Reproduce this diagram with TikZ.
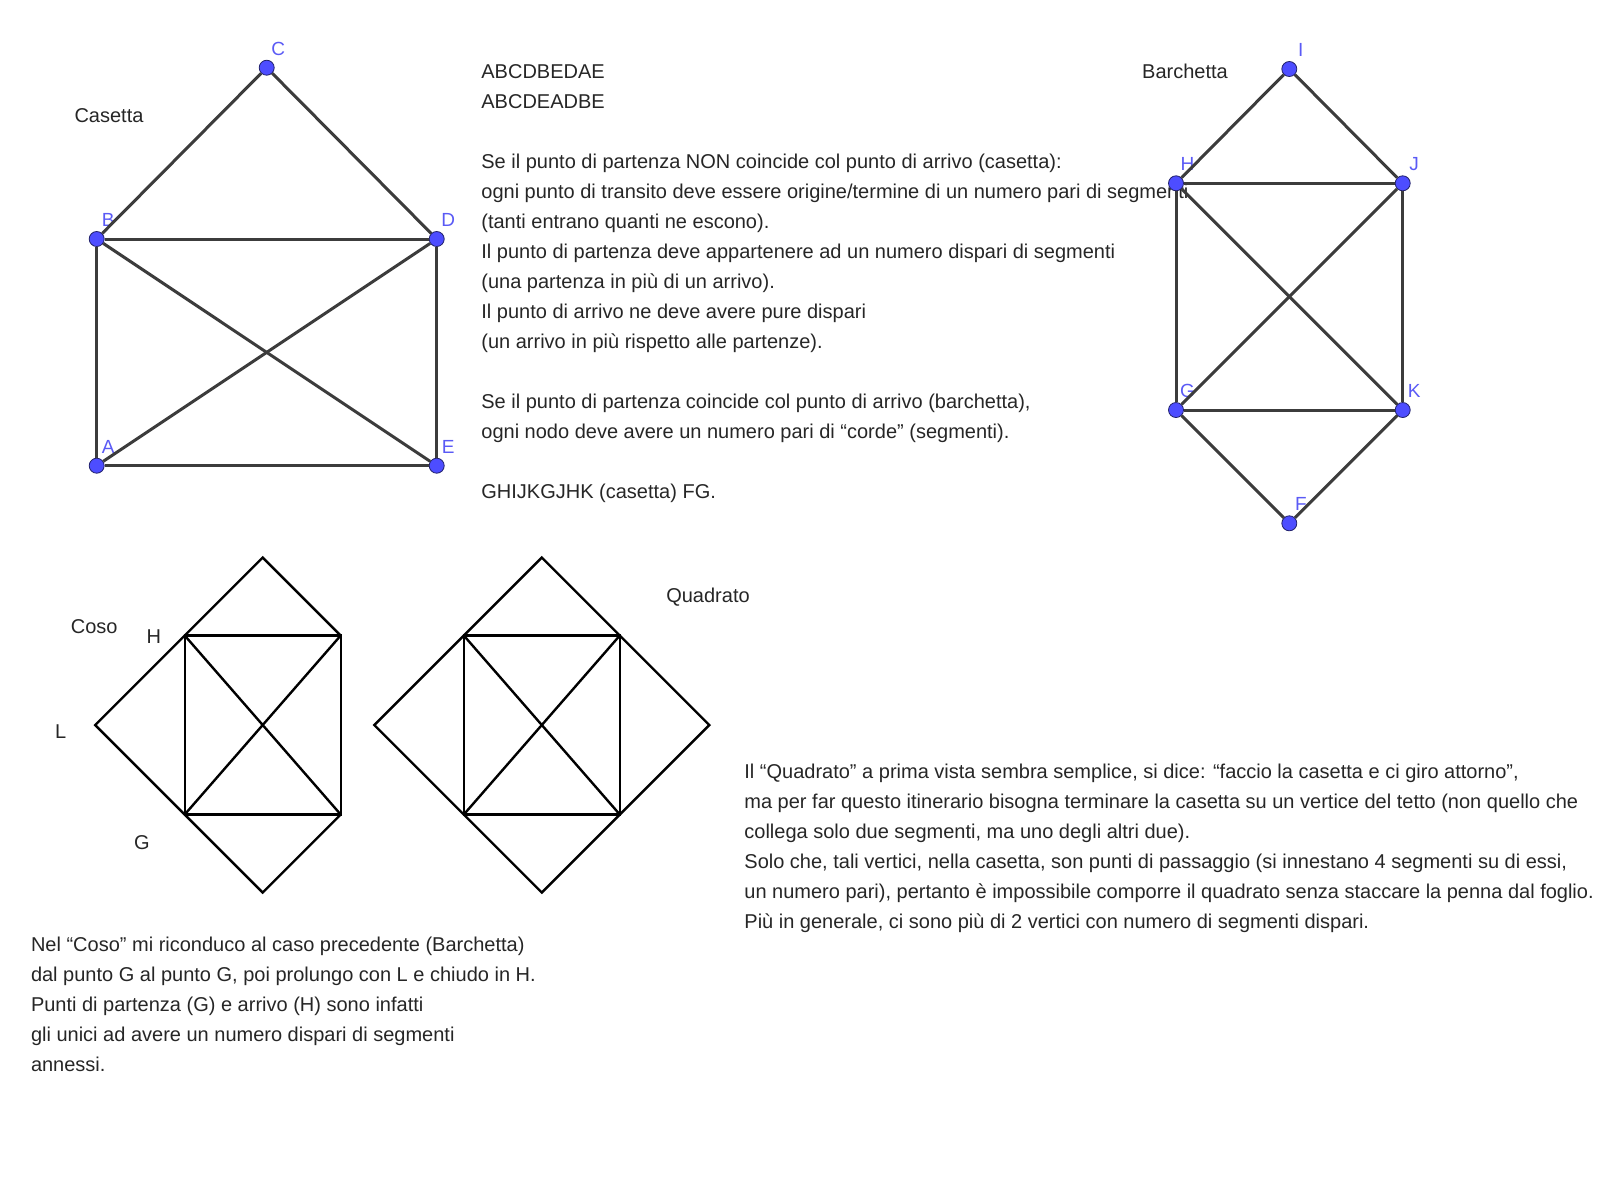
\documentclass[tikz,border=0pt]{standalone}
\usepackage{fontspec}
\setmainfont{Liberation Sans}
\usepackage{xcolor}
\definecolor{ink}{HTML}{262626}
\definecolor{edge}{HTML}{3C3C3C}
\definecolor{ptblue}{HTML}{4D4DFF}
\definecolor{ptline}{HTML}{20206A}
\definecolor{lblue}{HTML}{5A5AF5}
\usepackage{tikz}
\tikzset{
  pt/.style={circle,fill=ptblue,draw=ptline,line width=0.4pt,minimum size=7.5pt,inner sep=0pt},
  lbl/.style={font=\fontsize{9.5}{11}\selectfont,text=lblue,inner sep=0pt},
  txt/.style={font=\fontsize{10}{15}\selectfont,text=ink,align=left,inner sep=0pt},
  seg/.style={draw=edge,line width=1.5pt},
  sk/.style={draw=black,line width=1.2pt,line join=miter},
}

\begin{document}
\begin{tikzpicture}[x=0.5pt,y=-0.5pt]
\useasboundingbox (0,0) rectangle (1598,1184);

% testi (base = ultima riga)
\node[txt,anchor=base west] (regole) at (481,498.4) {ABCDBEDAE\\ABCDEADBE\\[15pt]
Se il punto di partenza NON coincide col punto di arrivo (casetta):\\
ogni punto di transito deve essere origine/termine di un numero pari di segmenti\\
(tanti entrano quanti ne escono).\\
Il punto di partenza deve appartenere ad un numero dispari di segmenti\\
(una partenza in più di un arrivo).\\
Il punto di arrivo ne deve avere pure dispari\\
(un arrivo in più rispetto alle partenze).\\[15pt]
Se il punto di partenza coincide col punto di arrivo (barchetta),\\
ogni nodo deve avere un numero pari di “corde” (segmenti).\\[15pt]
GHIJKGJHK (casetta) FG.};
\node[txt,anchor=base west] (quadr) at (744,928.3) {Il “Quadrato” a prima vista sembra semplice, si dice: “faccio la casetta e ci giro attorno”,\\
ma per far questo itinerario bisogna terminare la casetta su un vertice del tetto (non quello che\\
collega solo due segmenti, ma uno degli altri due).\\
Solo che, tali vertici, nella casetta, son punti di passaggio (si innestano 4 segmenti su di essi,\\
un numero pari), pertanto è impossibile comporre il quadrato senza staccare la penna dal foglio.\\
Più in generale, ci sono più di 2 vertici con numero di segmenti dispari.};
\node[txt,anchor=base west] (coso) at (30.6,1071.7) {Nel “Coso” mi riconduco al caso precedente (Barchetta)\\
dal punto G al punto G, poi prolungo con L e chiudo in H.\\
Punti di partenza (G) e arrivo (H) sono infatti\\
gli unici ad avere un numero dispari di segmenti\\
annessi.};

% casetta
\node[txt] (tcas) at (109,115.7) {Casetta};
\foreach \p/\x/\y in {A/96.7/465.7,B/96.7/239,C/266.7/67.7,D/436.7/239,E/436.7/465.7} {
  \node[pt] (\p) at (\x,\y) {};
  \node[lbl] (l\p) at ([shift={(11.5,-19)}]\p) {\p};
}
\foreach \u/\v in {A/B,B/C,C/D,B/D,D/E,A/E,B/E,A/D}
  \draw[seg] (\u) -- (\v);

% barchetta
\node[txt] (tbar) at (1185,71.7) {Barchetta};
\foreach \p/\x/\y in {I/1289.3/69,H/1176/183.3,J/1402.7/183.3,G/1176/410,K/1402.7/410,F/1289.3/523.3} {
  \node[pt] (\p) at (\x,\y) {};
  \node[lbl] (l\p) at ([shift={(11.5,-19)}]\p) {\p};
}
\foreach \u/\v in {H/I,I/J,H/J,H/G,J/K,G/K,H/K,J/G,G/F,F/K}
  \draw[seg] (\u) -- (\v);

% coso e quadrato
\foreach \n/\cx in {co/262.7,qu/541.8} {
  \coordinate (\n-t) at (\cx,557.5);
  \coordinate (\n-b) at (\cx,892.5);
  \coordinate (\n-l) at (\cx-167.5,725);
  \coordinate (\n-r) at (\cx+167.5,725);
  \coordinate (\n-hl) at (\cx-78,635.5);
  \coordinate (\n-hr) at (\cx+78,635.5);
  \coordinate (\n-gl) at (\cx-78,814.5);
  \coordinate (\n-gr) at (\cx+78,814.5);
  \draw[sk] (\n-hl) rectangle (\n-gr);
  \draw[sk] (\n-hl) -- (\n-gr) (\n-hr) -- (\n-gl);
  \draw[sk] (\n-hl) -- (\n-t) -- (\n-hr);
  \draw[sk] (\n-gl) -- (\n-b) -- (\n-gr);
  \draw[sk] (\n-hl) -- (\n-l) -- (\n-gl);
}
\draw[sk] (qu-hr) -- (qu-r) -- (qu-gr);
\node[txt] (tcoso) at (94.2,627) {Coso};
\node[txt] (tH) at (153.9,637) {H};
\node[txt] (tL) at (60.7,732) {L};
\node[txt] (tG) at (142,843) {G};
\node[txt] (tquad) at (708,596.7) {Quadrato};
\end{tikzpicture}
\end{document}
